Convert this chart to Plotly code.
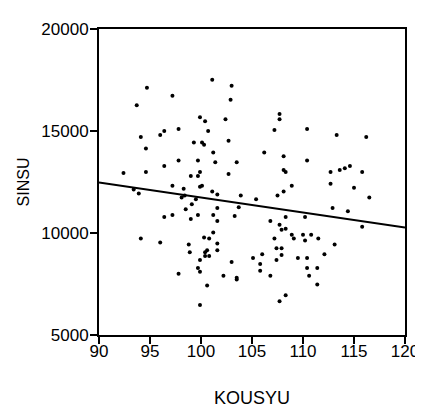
import plotly.graph_objects as go
import numpy as np

kousyu = [101.1, 103.0, 94.7, 97.2, 102.9, 93.7, 99.9, 100.4, 102.4, 96.4,
          96.0, 97.8, 100.7, 94.1, 94.6, 99.3, 100.1, 100.3, 102.7, 101.2,
          97.8, 99.7, 101.4, 103.5, 96.4, 92.4, 94.6, 99.9, 99.7, 99.0,
          102.7, 107.7, 107.7, 107.2, 110.4, 113.3, 116.2, 106.2, 108.1, 110.4,
          108.1, 108.3, 112.7, 113.6, 114.1, 114.6, 115.8, 97.2, 98.3, 99.9,
          100.1, 93.4, 93.9, 101.1, 101.6, 103.9, 98.1, 98.4, 99.5, 99.1,
          103.7, 98.5, 101.6, 96.4, 97.2, 99.7, 101.2, 103.3, 99.0, 101.6,
          101.2, 94.1, 100.3, 100.8, 96.0, 98.8, 101.6, 98.9, 100.4, 100.6,
          100.4, 100.8, 101.6, 103.0, 99.9, 99.7, 99.9, 97.8, 102.2, 103.5,
          103.5, 100.6, 99.9, 108.9, 112.7, 108.1, 107.5, 115.0, 116.5, 105.4,
          112.9, 114.4, 108.3, 110.2, 106.8, 107.7, 107.9, 108.3, 115.8, 108.9,
          110.0, 110.8, 109.1, 110.2, 111.5, 107.2, 113.1, 107.4, 107.9, 106.0,
          107.9, 112.1, 105.1, 109.5, 110.4, 107.4, 105.8, 110.4, 111.4, 105.8,
          106.8, 110.6, 111.4, 108.3, 107.7]

sinsu = [17510, 17220, 17125, 16730, 16535, 16260, 15670, 15480, 15580, 15000,
         14810, 15100, 15000, 14710, 14140, 14440, 14440, 14330, 14520, 13950,
         13560, 13560, 13470, 13470, 13280, 12940, 12990, 12990, 12800, 12800,
         12890, 15830, 15580, 15050, 15100, 14810, 14710, 13950, 13760, 13560,
         13090, 12990, 12990, 13090, 13180, 13280, 12990, 12320, 12170, 12270,
         12320, 12130, 11940, 12030, 11890, 11840, 11740, 11840, 11650, 11410,
         11260, 11170, 11220, 10780, 10880, 10880, 10880, 10830, 10690, 10590,
         10020, 9730, 9780, 9730, 9540, 9440, 9490, 9060, 9060, 9160,
         8870, 8870, 9160, 8580, 8680, 8290, 8100, 8000, 7910, 7810,
         7720, 7430, 6470, 12320, 12410, 12030, 11840, 12220, 11740, 11650,
         11220, 11070, 10780, 10780, 10590, 10400, 10160, 10210, 10310, 9920,
         9920, 9920, 9730, 9630, 9730, 9730, 9440, 9250, 9250, 8960,
         8920, 8960, 8770, 8770, 8770, 8680, 8480, 8290, 8290, 8150,
         7910, 7910, 7480, 6950, 6660]

# fitted regression line
fit_x = [90, 120]
fit_intercept_at_90 = 12480
fit_slope = -73.7
fit_y = [fit_intercept_at_90 + fit_slope * (x - 90) for x in fit_x]

x_ticks = [90, 95, 100, 105, 110, 115, 120]
y_ticks = [5000, 10000, 15000, 20000]
y_tick_labels = ["5000", "10000", "15000", "20000"]

fig = go.Figure()
fig.add_trace(go.Scatter(x=fit_x, y=fit_y, mode="lines",
                         line=dict(color="black", width=2), hoverinfo="skip"))
fig.add_trace(go.Scatter(x=kousyu, y=sinsu, mode="markers",
                         marker=dict(color="black", size=4, line=dict(width=0))))

font_family = "Liberation Sans, Arial, sans-serif"
axis_common = dict(showgrid=False, zeroline=False, showline=True, linecolor="black",
                   linewidth=2, mirror=True, ticks="outside", ticklen=7,
                   tickwidth=2, tickcolor="black",
                   tickfont=dict(family=font_family, size=17, color="black"))

fig.update_layout(
    width=423, height=412,
    margin=dict(l=91, r=18, t=12, b=85),
    paper_bgcolor="white", plot_bgcolor="white",
    showlegend=False,
    xaxis=dict(range=[90, 120], tickvals=x_ticks, ticklabelstandoff=-7,
               title=dict(text="KOUSYU", font=dict(family=font_family, size=18, color="black"),
                          standoff=31),
               **axis_common),
    yaxis=dict(range=[5000, 20000], tickvals=y_ticks, ticktext=y_tick_labels,
               ticklabelstandoff=-2,
               title=dict(text="SINSU", font=dict(family=font_family, size=16, color="black"),
                          standoff=8),
               **axis_common),
)

fig.write_html("out.html")
